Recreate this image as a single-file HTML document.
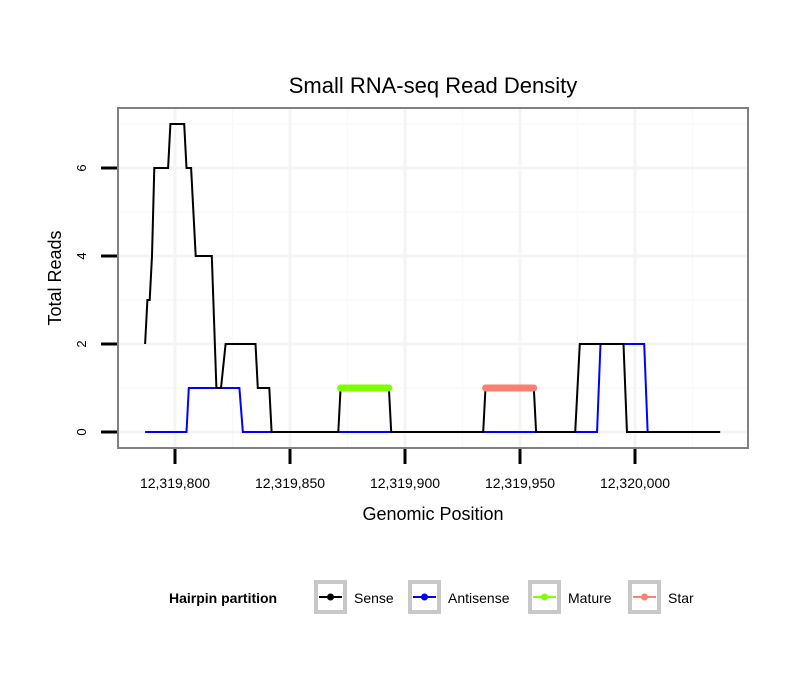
<!DOCTYPE html>
<html><head><meta charset="utf-8"><style>
body{margin:0;background:#fff;}
svg{display:block;font-family:"Liberation Sans",sans-serif;}
</style></head><body>
<svg id="chart" width="810" height="690" viewBox="0 0 810 690" xmlns="http://www.w3.org/2000/svg">
<rect width="810" height="690" fill="#fff"/>
<text x="433" y="93" font-size="22" text-anchor="middle">Small RNA-seq Read Density</text>
<g id="grid"></g>
<g id="series"></g>
<rect x="118" y="108" width="630" height="340" fill="none" stroke="#808080" stroke-width="2"/>
<g id="axes"></g>
<text x="433" y="520" font-size="18" text-anchor="middle">Genomic Position</text>
<text transform="translate(61,278) rotate(-90)" font-size="18" text-anchor="middle">Total Reads</text>
<g>
<text x="169" y="603" font-size="14" font-weight="bold">Hairpin partition</text>
<g id="legend"></g>
</g>
</svg>
<script>
const xTicks=[12319800,12319850,12319900,12319950,12320000];
const xTickLabels=["12,319,800","12,319,850","12,319,900","12,319,950","12,320,000"];
const yTicks=[0,2,4,6];
// series positions are offsets from 12,319,000
const senseX=[787,788,789,790,791,797,798,804,805,807,809,816,818,820,822,835,836,841,842,871,872,893,894,934,935,956,957,974,976,995,996.5,1037];
const senseY=[2,3,3,4,6,6,7,7,6,6,4,4,1,1,2,2,1,1,0,0,1,1,0,0,1,1,0,0,2,2,0,0];
const antiX=[787,805,806,828,829.5,983.5,985,1004,1005.5,1037];
const antiY=[0,0,1,1,0,0,2,2,0,0];
const matureX=[872,893];const matureY=[1,1];
const starX=[935,956];const starY=[1,1];
const legendLabels=["Sense","Antisense","Mature","Star"];
const legendColors=["#000000","#0000ff","#7fff00","#fa8072"];

const NS="http://www.w3.org/2000/svg";
const BASE=12319000;
const X=v=>175+(v-12319800)*2.3;
const Xs=v=>X(BASE+v);
const Y=v=>432-v*44;
function mk(tag,attrs,parent){const e=document.createElementNS(NS,tag);for(const k in attrs)e.setAttribute(k,attrs[k]);parent.appendChild(e);return e;}
const grid=document.getElementById('grid'),series=document.getElementById('series'),axes=document.getElementById('axes'),legend=document.getElementById('legend');
mk('rect',{x:118,y:108,width:630,height:340,fill:'#fff'},grid);
for(let i=0;i<xTicks.length+1;i++){const v=12319775+i*50;const px=X(v);if(px>118&&px<748){const l=mk('line',{x1:px,x2:px,y1:108,y2:448,stroke:'#f9f9f9','stroke-width':1.5},grid);}}
for(let v=1;v<=7;v+=2){const py=Y(v);if(py>108){const l=mk('line',{x1:118,x2:748,y1:py,y2:py,stroke:'#f9f9f9','stroke-width':1.5},grid);}}
xTicks.forEach((v,i)=>{const px=X(v);
 const g=mk('line',{x1:px,x2:px,y1:108,y2:448,stroke:'#f4f4f4','stroke-width':3},grid);
 const t=mk('line',{x1:px,x2:px,y1:449,y2:464,stroke:'#000','stroke-width':3},axes);
 const tx=mk('text',{x:px,y:488,'font-size':14,'text-anchor':'middle'},axes);tx.textContent=xTickLabels[i];});
yTicks.forEach(v=>{const py=Y(v);
 const g=mk('line',{x1:118,x2:748,y1:py,y2:py,stroke:'#f4f4f4','stroke-width':3},grid);
 const t=mk('line',{x1:101,x2:117,y1:py,y2:py,stroke:'#000','stroke-width':3},axes);
 const tx=mk('text',{'font-size':13,'text-anchor':'middle',transform:`translate(86,${py}) rotate(-90)`},axes);tx.textContent=v;});
function pts(xs,ys){return xs.map((x,i)=>Xs(x)+','+Y(ys[i])).join(' ');}
const pb=mk('polyline',{points:pts(antiX,antiY),fill:'none',stroke:'#0000ff','stroke-width':2},series);

const ps=mk('polyline',{points:pts(senseX,senseY),fill:'none',stroke:'#000','stroke-width':2},series);

const pm=mk('polyline',{points:pts(matureX,matureY),fill:'none',stroke:'#7fff00','stroke-width':7,'stroke-linecap':'round'},series);

const pst=mk('polyline',{points:pts(starX,starY),fill:'none',stroke:'#fa8072','stroke-width':7,'stroke-linecap':'round'},series);

const boxX=[314,408,528,628];
legendLabels.forEach((lab,i)=>{const bx=boxX[i];
 const g=mk('g',{},legend);
 mk('rect',{x:bx+2,y:582,width:29,height:30,fill:'#fff',stroke:'#c8c8c8','stroke-width':4},g);
 mk('line',{x1:bx+5,x2:bx+28,y1:597,y2:597,stroke:legendColors[i],'stroke-width':2},g);
 mk('circle',{cx:bx+16.5,cy:597,r:3.5,fill:legendColors[i]},g);
 const t=mk('text',{x:bx+40,y:603,'font-size':14},g);t.textContent=lab;});
</script>
</body></html>
